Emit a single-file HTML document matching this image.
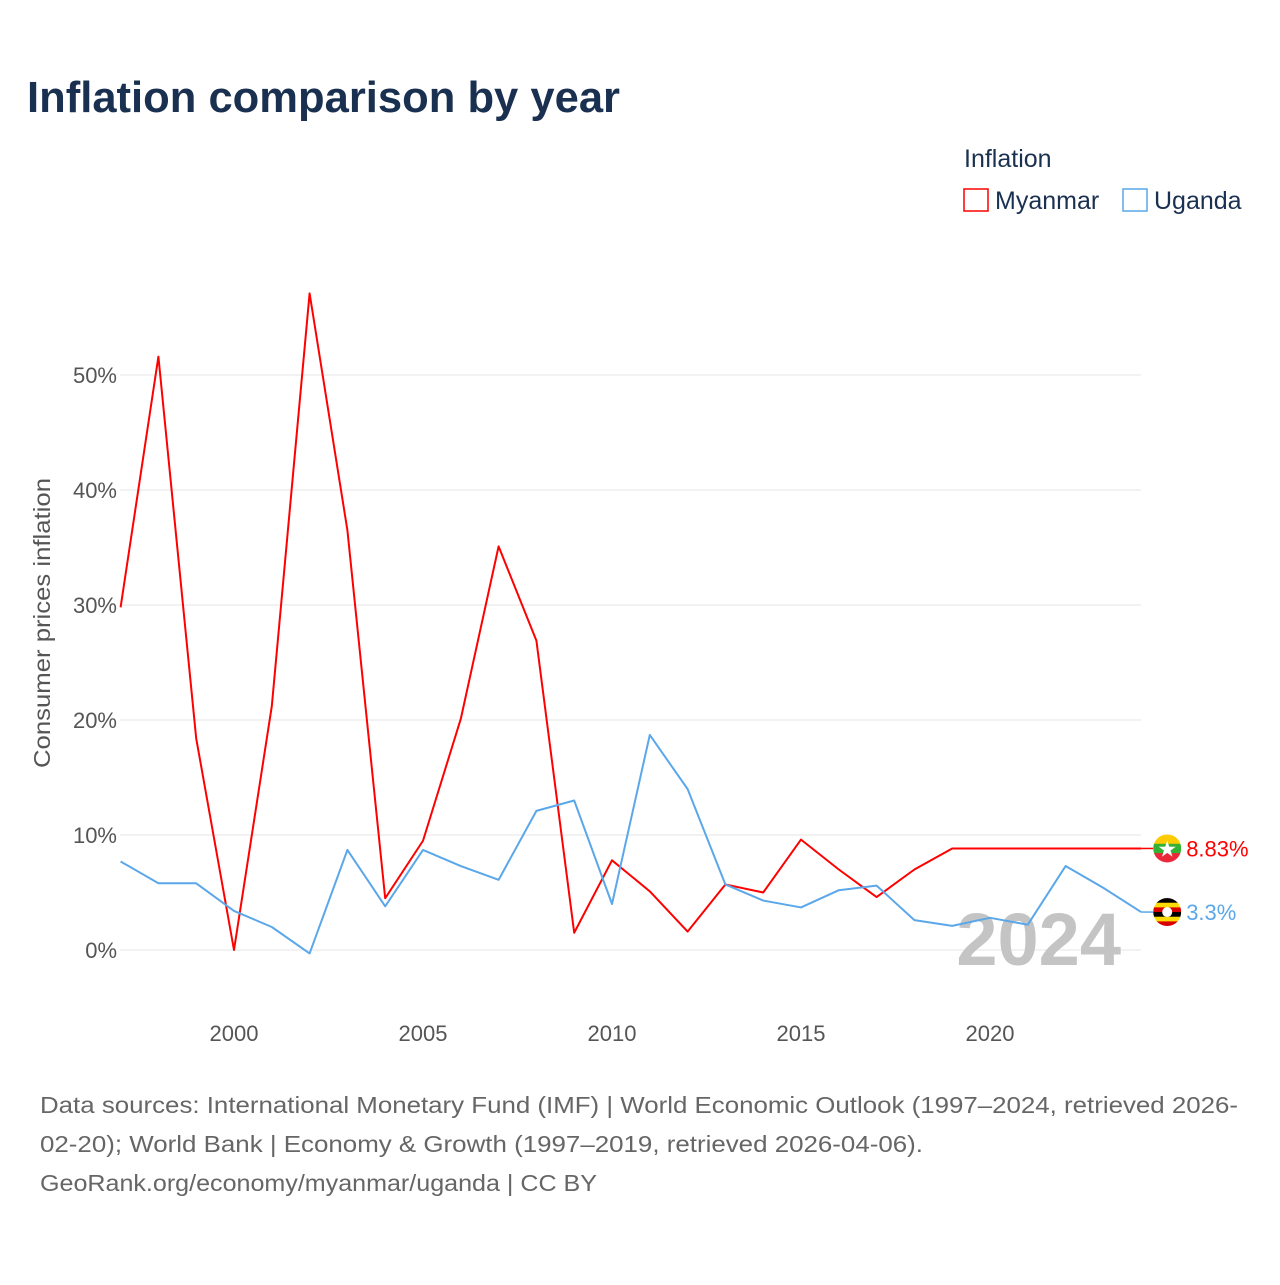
<!DOCTYPE html>
<html><head><meta charset="utf-8">
<style>
body{margin:0;width:1280px;height:1280px;background:#fff;font-family:"Liberation Sans",sans-serif;overflow:hidden}
</style></head>
<body>
<svg id="chart" width="1280" height="1280" xmlns="http://www.w3.org/2000/svg" style="font-family:'Liberation Sans',sans-serif">
<text x="27" y="112" font-size="44" font-weight="bold" fill="#1a3050" textLength="593" lengthAdjust="spacingAndGlyphs">Inflation comparison by year</text>
<text x="964" y="167" font-size="25" fill="#1a3050">Inflation</text>
<g><rect x="964" y="189" width="24" height="22" fill="none" stroke="#ff0000" stroke-width="1.5"/><text x="995" y="209" font-size="25" fill="#1a3050">Myanmar</text></g>
<g><rect x="1123" y="189" width="24" height="22" fill="none" stroke="#5aa7ea" stroke-width="1.5"/><text x="1154" y="209" font-size="25" fill="#1a3050">Uganda</text></g>
<text transform="translate(50,623) rotate(-90)" text-anchor="middle" font-size="23" fill="#555" textLength="290" lengthAdjust="spacingAndGlyphs">Consumer prices inflation</text>
<g id="grid"></g><g id="yticks"></g><g id="xticks"></g>
<text x="1121" y="965" text-anchor="end" font-size="74" font-weight="bold" fill="#c4c4c4">2024</text>
<g id="series"></g>
<text font-size="23" fill="#666"><tspan x="40" y="1113" textLength="1198" lengthAdjust="spacingAndGlyphs">Data sources: International Monetary Fund (IMF) | World Economic Outlook (1997–2024, retrieved 2026-</tspan><tspan x="40" y="1152" textLength="883" lengthAdjust="spacingAndGlyphs">02-20); World Bank | Economy &amp; Growth (1997–2019, retrieved 2026-04-06).</tspan><tspan x="40" y="1191" textLength="557" lengthAdjust="spacingAndGlyphs">GeoRank.org/economy/myanmar/uganda | CC BY</tspan></text>
</svg>
<script>
const years=[1997,1998,1999,2000,2001,2002,2003,2004,2005,2006,2007,2008,2009,2010,2011,2012,2013,2014,2015,2016,2017,2018,2019,2020,2021,2022,2023,2024];
const myanmar=[29.8,51.6,18.4,0,21.2,57.1,36.5,4.5,9.5,20.1,35.1,26.9,1.5,7.8,5.1,1.6,5.7,5.0,9.6,7.0,4.6,7.0,8.83,8.83,8.83,8.83,8.83,8.83];
const uganda=[7.7,5.8,5.8,3.4,2.0,-0.3,8.7,3.8,8.7,7.3,6.1,12.1,13.0,4.0,18.7,14.0,5.7,4.3,3.7,5.2,5.6,2.6,2.1,2.8,2.2,7.3,5.4,3.3];
const yTicks=[0,10,20,30,40,50];
const xTicks=[2000,2005,2010,2015,2020];
const NS="http://www.w3.org/2000/svg";
const xs=y=>120.6+(y-1997)*37.8;
const ys=v=>950-v*11.5;
function mk(tag,attrs,parent){const e=document.createElementNS(NS,tag);for(const k in attrs)e.setAttribute(k,attrs[k]);document.getElementById(parent).appendChild(e);return e;}
yTicks.forEach(t=>{
 const l=mk('line',{x1:120,x2:1141,y1:ys(t),y2:ys(t),stroke:'#e6e6e6','stroke-width':1},'grid');
 
 
 const tx=mk('text',{x:117,y:ys(t)+8,'text-anchor':'end','font-size':22,fill:'#555'},'yticks');
 tx.textContent=t+'%';
 
 
});
xTicks.forEach(t=>{
 const tx=mk('text',{x:xs(t),y:1041,'text-anchor':'middle','font-size':22,fill:'#555'},'xticks');
 tx.textContent=t;
 
 
});
function line(data,color,name){
 const p=mk('polyline',{points:data.map((v,i)=>xs(years[i])+','+ys(v)).join(' '),fill:'none',stroke:color,'stroke-width':2,'stroke-linejoin':'round'},'series');
 
 
 const last=data[data.length-1],lx=xs(years[years.length-1]);
 const c=mk('line',{x1:lx,x2:lx+12,y1:ys(last),y2:ys(last),stroke:color,'stroke-width':1.5},'series');
 
 
 return [lx,ys(last),last];
}
const m=line(myanmar,'#ff0000','myanmar-line');
const u=line(uganda,'#5aa7ea','uganda-line');
function flag(cx,cy,stripes,name){
 const g=mk('g',{},'series');
 
 
 const id='c'+name;
 const cp=document.createElementNS(NS,'clipPath');cp.setAttribute('id',id);
 const cc=document.createElementNS(NS,'circle');cc.setAttribute('cx',cx);cc.setAttribute('cy',cy);cc.setAttribute('r',14);cp.appendChild(cc);g.appendChild(cp);
 const h=28/stripes.length;
 stripes.forEach((s,i)=>{const r=document.createElementNS(NS,'rect');r.setAttribute('x',cx-14);r.setAttribute('y',cy-14+i*h);r.setAttribute('width',28);r.setAttribute('height',h+0.5);r.setAttribute('fill',s);r.setAttribute('clip-path','url(#'+id+')');g.appendChild(r);});
 return g;
}
const fm=flag(m[0]+26,ys(m[2]),['#fecb00','#34b233','#ea2839'],'myanmar-flag');
const st=document.createElementNS(NS,'text');st.setAttribute('x',m[0]+26);st.setAttribute('y',ys(m[2])+8);st.setAttribute('text-anchor','middle');st.setAttribute('font-size',22);st.setAttribute('fill','#fff');st.textContent='★';fm.appendChild(st);
const fu=flag(u[0]+26,ys(u[2]),['#000','#fcdc04','#d90000','#000','#fcdc04','#d90000'],'uganda-flag');
const wc=document.createElementNS(NS,'circle');wc.setAttribute('cx',u[0]+26);wc.setAttribute('cy',ys(u[2]));wc.setAttribute('r',5);wc.setAttribute('fill','#fff');fu.appendChild(wc);
const lm=mk('text',{x:m[0]+45,y:ys(m[2])+8,'font-size':22,fill:'#ff0000'},'series');
lm.textContent=m[2]+'%';


const lu=mk('text',{x:u[0]+45,y:ys(u[2])+8,'font-size':22,fill:'#5aa7ea'},'series');
lu.textContent=u[2]+'%';


</script>
</body></html>
